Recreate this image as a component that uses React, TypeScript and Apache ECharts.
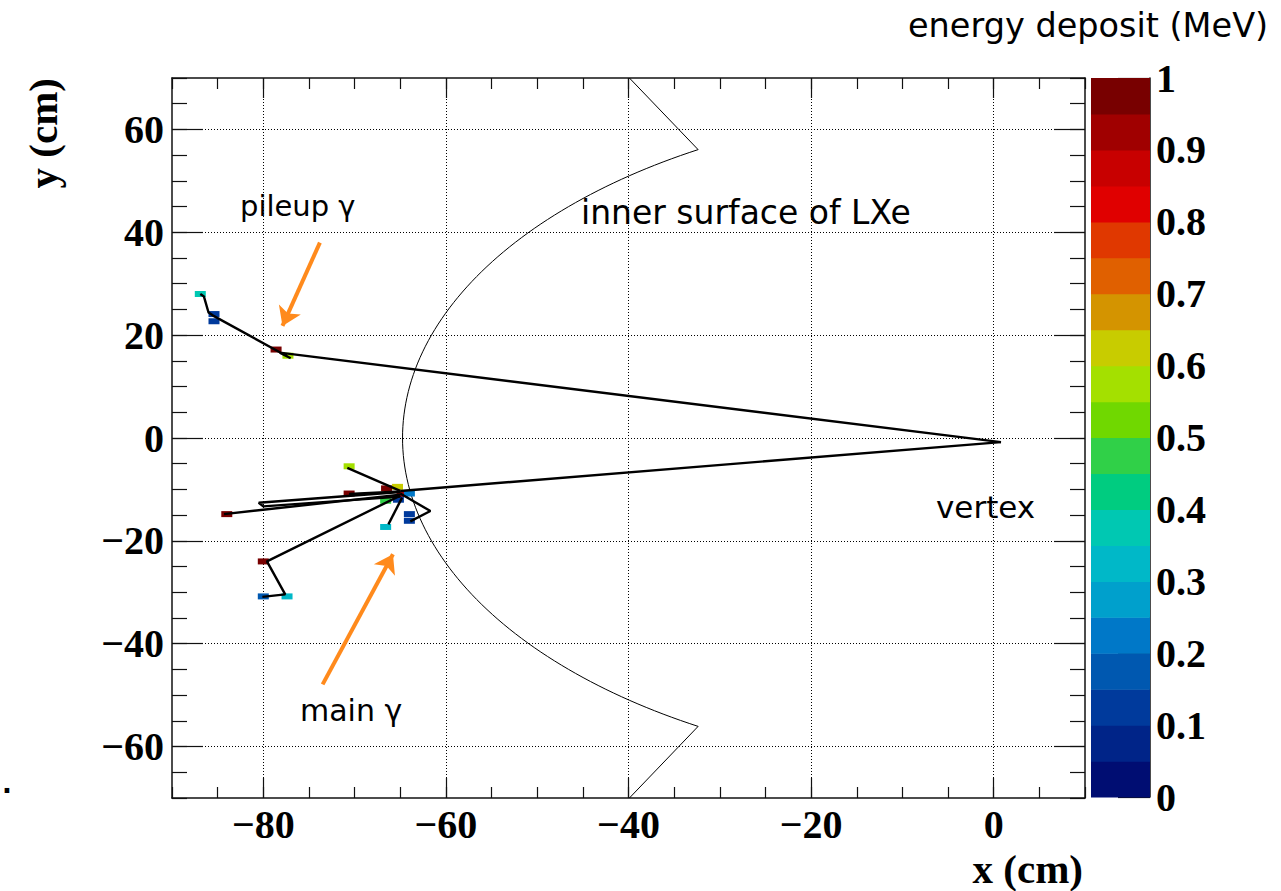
import React, { useEffect, useRef } from 'react';
import * as echarts from 'echarts';

// ---- axes ----
const X_MIN = -90;
const X_MAX = 10;
const Y_MIN = -70;
const Y_MAX = 70;
const MINOR_STEP = 5;
const MAJOR_STEP = 20;
const X_TICKS = ['-90', '-85', '-80', '-75', '-70', '-65', '-60', '-55', '-50', '-45', '-40', '-35', '-30', '-25', '-20', '-15', '-10', '-5', '0', '5', '10'];
const Y_TICKS = ['-70', '-65', '-60', '-55', '-50', '-45', '-40', '-35', '-30', '-25', '-20', '-15', '-10', '-5', '0', '5', '10', '15', '20', '25', '30', '35', '40', '45', '50', '55', '60', '65', '70'];

// ---- colour scale (energy deposit, MeV) ----
const Z_MIN = 0;
const Z_MAX = 1;
const Z_STEP = 0.1;
const PALETTE = [
  '#000d72', '#002488', '#003a9c', '#0058b0', '#0078c8',
  '#00a0cc', '#00b8c8', '#00c8b2', '#00cc80', '#30d048',
  '#70d800', '#a4e000', '#c8cc00', '#d49400', '#e06000',
  '#e03800', '#e00000', '#c80000', '#a00000', '#780000',
];

// ---- event ----
const VERTEX: [number, number] = [0.8, -0.8];

// hits: [x, y, energy]
const PILEUP_HITS = [
  [-86.9, 28.0, 0.37],
  [-85.4, 24.1, 0.12],
  [-85.4, 22.7, 0.12],
  [-78.6, 17.2, 0.97],
  [-77.3, 16.0, 0.56],
];
const MAIN_HITS = [
  [-70.6, -5.5, 0.56],
  [-70.6, -10.8, 0.97],
  [-66.5, -9.8, 0.96],
  [-65.3, -9.5, 0.62],
  [-64.8, -10.9, 0.92],
  [-64.0, -10.8, 0.22],
  [-66.6, -12.2, 0.47],
  [-65.2, -12.0, 0.12],
  [-64.0, -14.8, 0.12],
  [-64.0, -16.1, 0.12],
  [-66.6, -17.3, 0.32],
  [-84.0, -14.8, 0.97],
  [-80.0, -24.0, 0.97],
  [-80.0, -30.8, 0.17],
  [-77.4, -30.8, 0.32],
];

const PILEUP_TRACKS = [
  [VERTEX, [-78.2, 16.6], [-77.0, 15.5], [-85.5, 23.8], [-86.0, 24.4], [-86.5, 27.5], [-86.9, 28.0]],
];
const MAIN_TRACKS = [
  [VERTEX, [-65.0, -10.3]],
  [[-65.0, -10.3], [-70.8, -5.8]],
  [[-65.0, -10.5], [-80.5, -12.6], [-80.0, -13.3], [-65.0, -11.4]],
  [[-65.0, -11.0], [-84.3, -14.8]],
  [[-65.0, -10.8], [-61.7, -14.2], [-63.9, -16.2]],
  [[-64.8, -11.6], [-66.3, -16.8]],
  [[-65.0, -11.2], [-79.6, -24.0], [-77.6, -30.4], [-80.1, -30.9]],
  [[-65.0, -10.4], [-70.6, -10.9]],
];

// LXe inner face: circle around the target, plus the two straight edges
const LXE_RADIUS = 64.75;
const LXE_ARC_DEG = [120, 240];
const LXE_TOP_END = [-39.9, 70];
const LXE_BOTTOM_END = [-39.9, -70];

const ARROWS = [
  [[-73.8, 38.0], [-77.9, 21.8]],
  [[-73.5, -47.9], [-65.8, -22.6]],
];

const colorFor = (e: number) => PALETTE[Math.max(0, Math.min(PALETTE.length - 1, Math.floor(e / 0.05)))];
const minus = (s: string) => s.replace('-', '\u2212');
const isMajor = (v: string) => Number(v) % MAJOR_STEP === 0;

const SERIF = 'Liberation Serif';
const SANS = 'DejaVu Sans';
const AXIS_COLOR = '#111';

function lxeOutline(): number[][] {
  const pts: number[][] = [LXE_TOP_END];
  const n = 120;
  for (let i = 0; i <= n; i++) {
    const a = ((LXE_ARC_DEG[0] + (LXE_ARC_DEG[1] - LXE_ARC_DEG[0]) * (i / n)) * Math.PI) / 180;
    pts.push([LXE_RADIUS * Math.cos(a), LXE_RADIUS * Math.sin(a)]);
  }
  pts.push(LXE_BOTTOM_END);
  return pts;
}

export default function App() {
  const ref = useRef<HTMLDivElement>(null);
  useEffect(() => {
    if (!ref.current) return;
    const chart = echarts.init(ref.current, undefined, { renderer: 'svg' });
    const label = { fontFamily: SERIF, fontWeight: 'bold' as const, fontSize: 40, color: '#000' };

    const valueX = (position: string) => ({
      type: 'value', gridIndex: 0, position, min: X_MIN, max: X_MAX, interval: MINOR_STEP,
      axisLine: { show: true, onZero: false, lineStyle: { color: AXIS_COLOR, width: 1.5 } },
      axisTick: { show: true, inside: true, length: 11, lineStyle: { color: AXIS_COLOR, width: 1.2 } },
      axisLabel: { show: false }, splitLine: { show: false },
    });
    const catX = (position: string, labels: boolean) => ({
      type: 'category', gridIndex: 0, position, data: X_TICKS, boundaryGap: false,
      axisLine: { show: false, onZero: false },
      axisTick: { show: true, inside: true, length: 20, interval: (_i: number, v: string) => isMajor(v), lineStyle: { color: AXIS_COLOR, width: 1.2 } },
      axisLabel: { show: labels, ...label, margin: 6, interval: (_i: number, v: string) => isMajor(v), formatter: (v: string) => minus(v) },
      splitLine: { show: labels, interval: (_i: number, v: string) => isMajor(v), lineStyle: { color: '#000', width: 1, type: [1, 2] } },
    });
    const valueY = (position: string) => ({
      type: 'value', gridIndex: 0, position, min: Y_MIN, max: Y_MAX, interval: MINOR_STEP,
      axisLine: { show: true, onZero: false, lineStyle: { color: AXIS_COLOR, width: 1.5 } },
      axisTick: { show: true, inside: true, length: 15, lineStyle: { color: AXIS_COLOR, width: 1.2 } },
      axisLabel: { show: false }, splitLine: { show: false },
    });
    const catY = (position: string, labels: boolean) => ({
      type: 'category', gridIndex: 0, position, data: Y_TICKS, boundaryGap: false,
      axisLine: { show: false, onZero: false },
      axisTick: { show: true, inside: true, length: 31, interval: (_i: number, v: string) => isMajor(v), lineStyle: { color: AXIS_COLOR, width: 1.2 } },
      axisLabel: { show: labels, ...label, margin: 8, interval: (_i: number, v: string) => isMajor(v), formatter: (v: string) => minus(v) },
      splitLine: { show: labels, interval: (_i: number, v: string) => isMajor(v), lineStyle: { color: '#000', width: 1, type: [1, 2] } },
    });

    const trackSeries = [...PILEUP_TRACKS, ...MAIN_TRACKS].map((t) => ({
      type: 'line', xAxisIndex: 0, yAxisIndex: 0, data: t, showSymbol: false, symbol: 'none',
      lineStyle: { color: '#000', width: 2.4 }, z: 5, silent: true,
    }));

    const option: any = {
      animation: false,
      backgroundColor: '#fff',
      grid: [
        { left: 172, right: 196, top: 78, bottom: 93 },
        { left: 1091, width: 59, top: 78, bottom: 94 },
      ],
      xAxis: [
        valueX('bottom'),
        catX('bottom', true),
        valueX('top'),
        catX('top', false),
        { type: 'category', gridIndex: 1, data: ['z'], show: false },
      ],
      yAxis: [
        valueY('left'),
        catY('left', true),
        valueY('right'),
        catY('right', false),
        {
          type: 'value', gridIndex: 1, position: 'right', min: Z_MIN, max: Z_MAX, interval: Z_STEP,
          axisLine: { show: true, onZero: false, lineStyle: { color: AXIS_COLOR, width: 1.5 } },
          axisTick: { show: true, inside: true, length: 32, lineStyle: { color: AXIS_COLOR, width: 1.2 } },
          axisLabel: { ...label, margin: 6 },
          splitLine: { show: false },
        },
      ],
      series: [
        {
          type: 'line', xAxisIndex: 0, yAxisIndex: 0, data: lxeOutline(), showSymbol: false, symbol: 'none',
          lineStyle: { color: '#000', width: 1 }, z: 3, silent: true,
        },
        {
          type: 'scatter', xAxisIndex: 0, yAxisIndex: 0, data: [...PILEUP_HITS, ...MAIN_HITS],
          symbol: 'rect', symbolSize: [11, 6], z: 4, silent: true,
          itemStyle: { color: (p: any) => colorFor(p.value[2]), opacity: 1 },
        },
        ...trackSeries,
        {
          type: 'lines', coordinateSystem: 'cartesian2d', xAxisIndex: 0, yAxisIndex: 0, z: 6, silent: true,
          data: ARROWS.map((a) => ({ coords: a })),
          symbol: ['none', 'arrow'], symbolSize: 18,
          lineStyle: { color: '#ff8a1c', width: 4, opacity: 1 },
        },
        {
          type: 'custom', xAxisIndex: 4, yAxisIndex: 4, silent: true,
          data: PALETTE.map((_c, i) => [0, (i * (Z_MAX - Z_MIN)) / PALETTE.length, ((i + 1) * (Z_MAX - Z_MIN)) / PALETTE.length]),
          encode: { x: 0, y: [1, 2] },
          renderItem: (params: any, api: any) => {
            const lo = api.coord([0, api.value(1)]);
            const hi = api.coord([0, api.value(2)]);
            const w = api.size([1, 0])[0];
            return {
              type: 'rect',
              shape: { x: lo[0] - w / 2, y: hi[1], width: w, height: lo[1] - hi[1] + 0.6 },
              style: { fill: PALETTE[params.dataIndex] },
            };
          },
        },
      ],
      graphic: [
        { type: 'text', x: 908, y: 25, style: { text: 'energy deposit (MeV)', font: `33.5px "${SANS}"`, fill: '#000', align: 'left', verticalAlign: 'middle' } },
        { type: 'text', x: 240, y: 206, style: { text: 'pileup \u03b3', font: `29px "${SANS}"`, fill: '#000', align: 'left', verticalAlign: 'middle' } },
        { type: 'text', x: 581, y: 212, style: { text: 'inner surface of LXe', font: `33px "${SANS}"`, fill: '#000', align: 'left', verticalAlign: 'middle' } },
        { type: 'text', x: 300, y: 710, style: { text: 'main \u03b3', font: `30px "${SANS}"`, fill: '#000', align: 'left', verticalAlign: 'middle' } },
        { type: 'text', x: 936, y: 507, style: { text: 'vertex', font: `31px "${SANS}"`, fill: '#000', align: 'left', verticalAlign: 'middle' } },
        { type: 'text', x: 1083, y: 869, style: { text: 'x (cm)', font: `bold 41px "${SERIF}"`, fill: '#000', align: 'right', verticalAlign: 'middle' } },
        { type: 'text', x: 43, y: 78, rotation: Math.PI / 2, style: { text: 'y (cm)', font: `bold 41px "${SERIF}"`, fill: '#000', align: 'right', verticalAlign: 'middle' } },
        { type: 'text', x: 7, y: 784, style: { text: '.', font: `bold 26px "${SANS}"`, fill: '#000', align: 'center', verticalAlign: 'middle' } },
      ],
    };
    chart.setOption(option);
    return () => chart.dispose();
  }, []);

  return (
    <div
      ref={ref}
      style={{ position: 'fixed', left: 0, top: 0, width: 1281, height: 891, background: '#fff' }}
    />
  );
}
